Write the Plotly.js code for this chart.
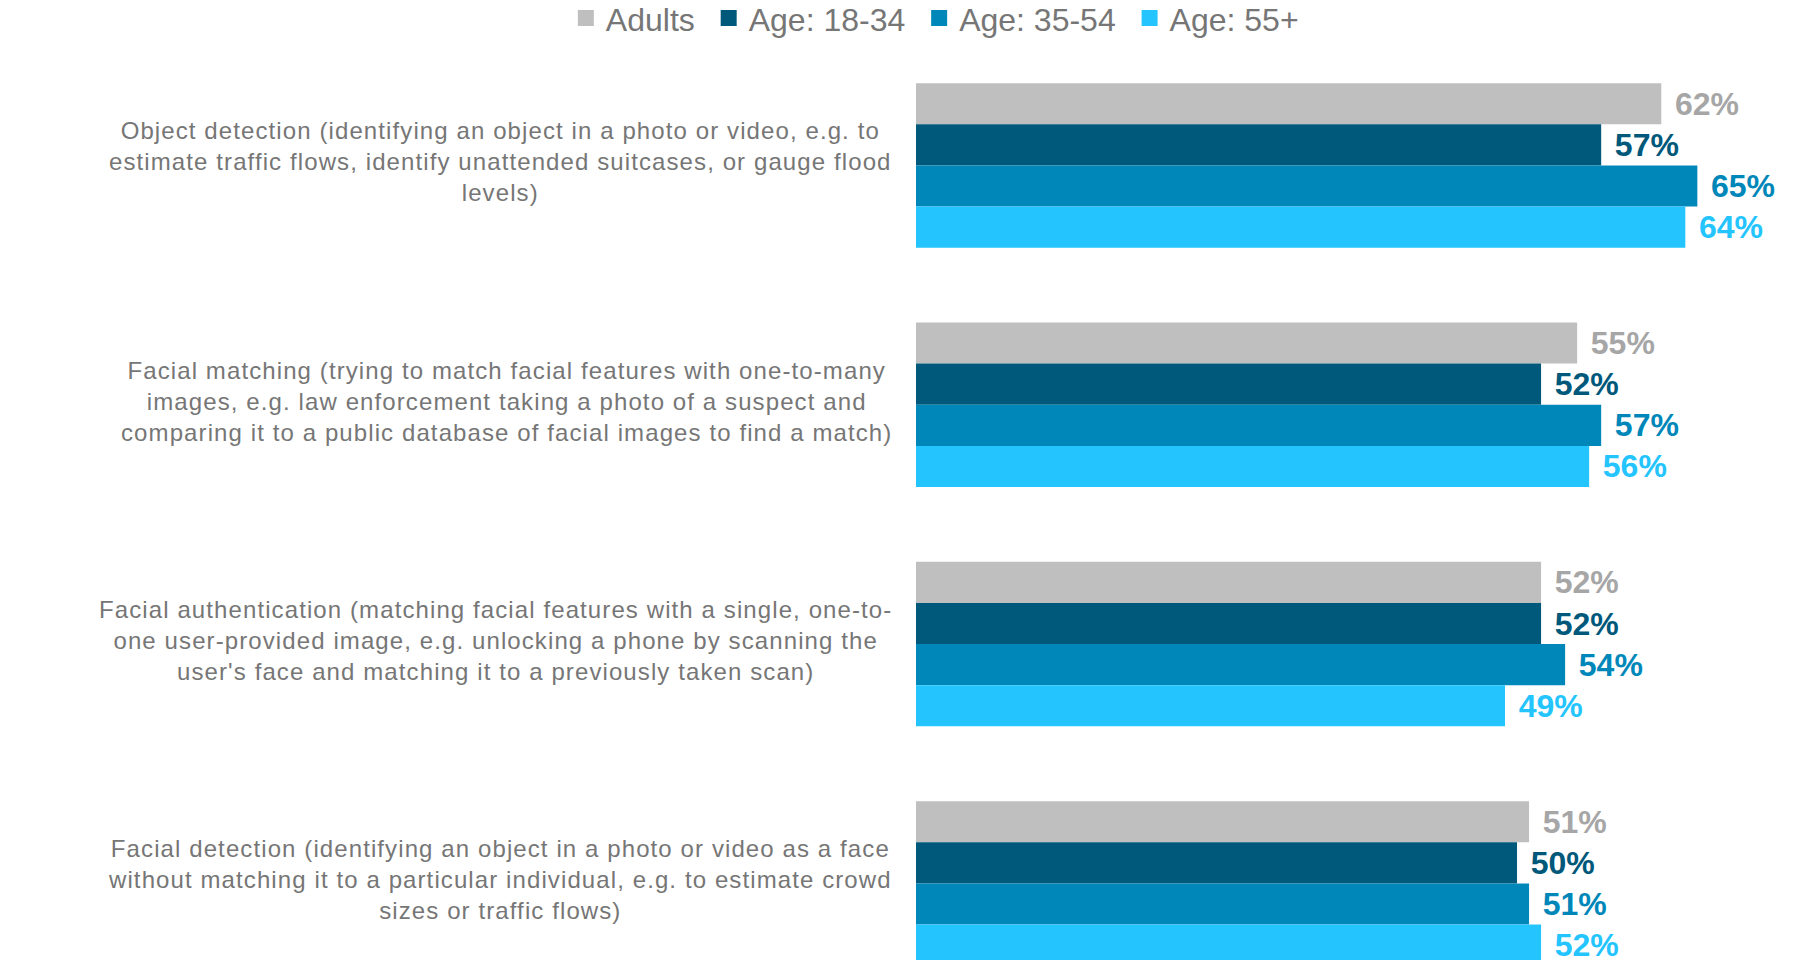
<!DOCTYPE html>
<html>
<head>
<meta charset="utf-8">
<script src="https://cdn.plot.ly/plotly-3.0.1.min.js"></script>
<style>
html,body{margin:0;padding:0;background:#fff;}
#chart{width:1803px;height:960px;}
.annotation-text{letter-spacing:1.1px;}
</style>
</head>
<body>
<div id="chart"></div>
<script>
const categories = [
  "Object detection (identifying an object in a photo or video, e.g. to<br>estimate traffic flows, identify unattended suitcases, or gauge flood<br>levels)",
  "Facial matching (trying to match facial features with one-to-many<br>images, e.g. law enforcement taking a photo of a suspect and<br>comparing it to a public database of facial images to find a match)",
  "Facial authentication (matching facial features with a single, one-to-<br>one user-provided image, e.g. unlocking a phone by scanning the<br>user's face and matching it to a previously taken scan)",
  "Facial detection (identifying an object in a photo or video as a face<br>without matching it to a particular individual, e.g. to estimate crowd<br>sizes or traffic flows)"
];
const seriesNames = ["Adults", "Age: 18-34", "Age: 35-54", "Age: 55+"];
const adults = [62, 55, 52, 51];
const age18_34 = [57, 52, 52, 50];
const age35_54 = [65, 57, 54, 51];
const age55plus = [64, 56, 49, 52];

const seriesValues = [adults, age18_34, age35_54, age55plus];
const barColors = ["#BFBFBF", "#00587A", "#0087B9", "#24C4FF"];
const labelColors = ["#A6A6A6", "#00587A", "#0087B9", "#24C4FF"];
const ids = categories.map((c, i) => i);

const barTraces = seriesValues.map((vals, i) => ({
  type: "bar",
  orientation: "h",
  name: seriesNames[i],
  legendgroup: "g" + i,
  showlegend: false,
  x: vals,
  y: ids,
  marker: {color: barColors[i], line: {width: 0}},
  text: vals.map(v => "\u2004" + v + "%"),
  textposition: "outside",
  textfont: {family: "Liberation Sans, Arial, sans-serif", size: 32, color: labelColors[i], weight: "bold"},
  cliponaxis: false,
  hoverinfo: "skip"
}));

// legend-only entries (larger square swatches, like the reference)
const legendTraces = seriesNames.map((n, i) => ({
  type: "scatter",
  mode: "markers",
  name: n + "\u00a0",
  legendgroup: "g" + i,
  x: [null], y: [null],
  marker: {symbol: "square", size: 16, color: barColors[i]},
  hoverinfo: "skip"
}));

const annotations = categories.map((c, i) => ({
  xref: "paper", yref: "y",
  x: -0.025, y: i,
  xanchor: "right", yanchor: "middle",
  yshift: 3.5,
  align: "center",
  text: c,
  showarrow: false,
  font: {family: "Liberation Sans, Arial, sans-serif", size: 24, color: "#767676"}
}));

const layout = {
  width: 1803, height: 960,
  margin: {l: 916, r: 0, t: 42, b: 0, pad: 0},
  paper_bgcolor: "#fff", plot_bgcolor: "#fff",
  barmode: "group",
  bargap: 0.3125,
  bargroupgap: 0,
  font: {family: "Liberation Sans, Arial, sans-serif", color: "#767676"},
  xaxis: {range: [0, 73.79], visible: false, showgrid: false, zeroline: false, fixedrange: true},
  yaxis: {range: [3.32, -0.5], visible: false, showgrid: false, zeroline: false, fixedrange: true},
  showlegend: true,
  legend: {
    orientation: "h",
    xref: "container", yref: "container",
    x: 0.521, xanchor: "center",
    y: 0.981, yanchor: "middle",
    font: {size: 32, color: "#767676", family: "Liberation Sans, Arial, sans-serif"},
    traceorder: "normal",
    itemwidth: 30
  },
  annotations: annotations
};

Plotly.newPlot("chart", barTraces.concat(legendTraces), layout, {displayModeBar: false, staticPlot: true});
</script>
</body>
</html>
